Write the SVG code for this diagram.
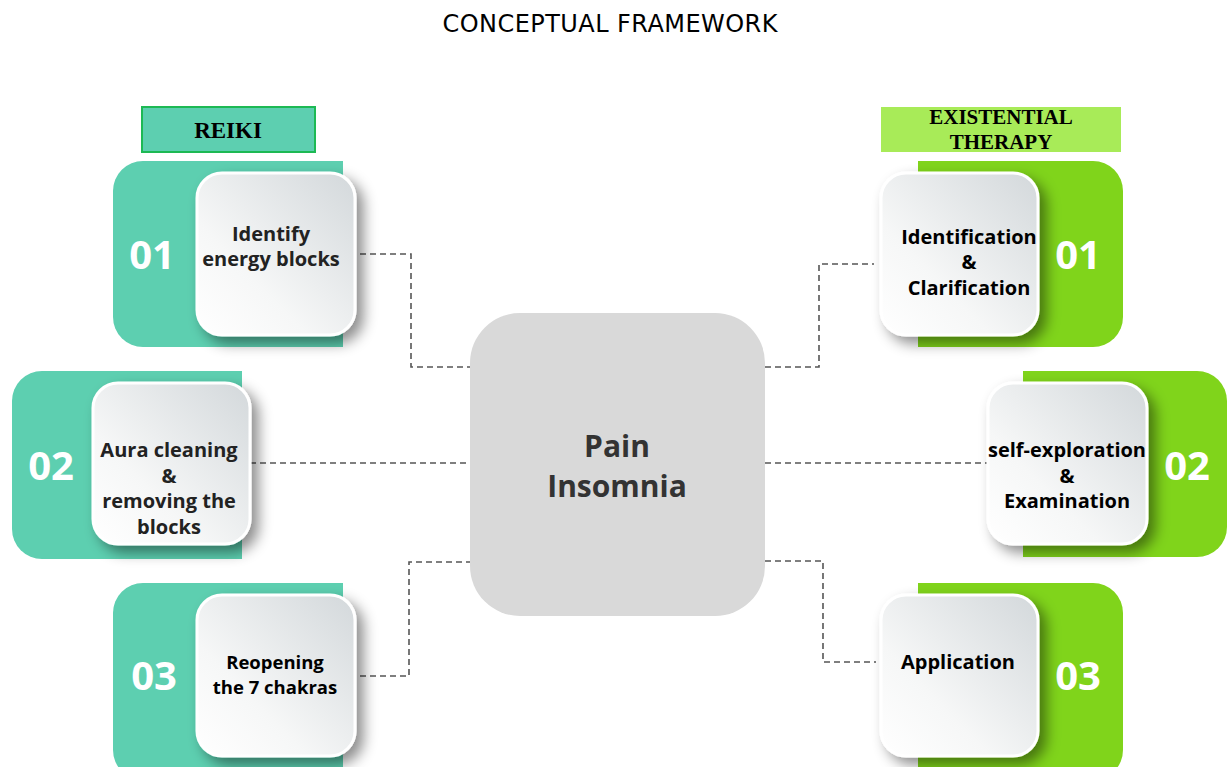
<svg xmlns="http://www.w3.org/2000/svg" width="1227" height="767" viewBox="0 0 1227 767">
<defs>
<linearGradient id="cardg" x1="0" y1="1" x2="1" y2="0">
<stop offset="0" stop-color="#ffffff"/>
<stop offset="0.35" stop-color="#f6f7f7"/>
<stop offset="1" stop-color="#d3d8db"/>
</linearGradient>
<filter id="sh" x="-30%" y="-30%" width="160%" height="160%">
<feDropShadow dx="7" dy="7" stdDeviation="7" flood-color="#000" flood-opacity="0.45"/>
</filter>
<style>
.teal{fill:#5dcfb0}
.lime{fill:#80d41b}
.card{fill:url(#cardg);stroke:#ffffff;stroke-width:3;filter:url(#sh)}
.num{font-family:"Open Sans","Noto Sans",sans-serif;font-weight:700;font-size:40px;fill:#ffffff;text-anchor:middle}
.lbl{font-family:"Open Sans","Noto Sans",sans-serif;font-weight:700;font-size:20px;fill:#222222;text-anchor:middle}
.lblk{font-family:"Open Sans","Noto Sans",sans-serif;font-weight:700;font-size:20px;fill:#000000;text-anchor:middle}
.hdr{font-family:"Liberation Serif",serif;font-weight:700;font-size:23px;fill:#000000;text-anchor:middle}
.conn{fill:none;stroke:#555555;stroke-width:1.6;stroke-dasharray:6 4}
</style>
</defs>
<rect width="1227" height="767" fill="#ffffff"/>
<text x="610" y="32" font-family="DejaVu Sans,sans-serif" font-size="24" fill="#000" text-anchor="middle" textLength="335">CONCEPTUAL FRAMEWORK</text>

<g id="connectors">
<path class="conn" d="M360 254 H411 V367 H470"/>
<path class="conn" d="M250 463 H470"/>
<path class="conn" d="M360 676 H409 V562 H470"/>
<path class="conn" d="M765 367 H819 V264 H874"/>
<path class="conn" d="M765 463 H988"/>
<path class="conn" d="M765 561 H823 V662 H876"/>
</g>

<g id="reiki-header">
<rect x="142" y="107" width="173" height="45" fill="#5dcfb0" stroke="#1db954" stroke-width="2"/>
<text class="hdr" x="228" y="138">REIKI</text>
</g>
<g id="existential-header">
<rect x="881" y="107" width="240" height="45" fill="#a8eb58"/>
<text class="hdr" x="1001" y="124" style="font-size:21px">EXISTENTIAL</text>
<text class="hdr" x="1001" y="149" style="font-size:21px">THERAPY</text>
</g>

<g id="center">
<rect x="470" y="313" width="295" height="303" rx="50" fill="#d9d9d9"/>
<text x="617" y="457" font-family="Open Sans,Noto Sans,sans-serif" font-weight="700" font-size="30" fill="#333" text-anchor="middle">Pain</text>
<text x="617" y="497" font-family="Open Sans,Noto Sans,sans-serif" font-weight="700" font-size="30" fill="#333" text-anchor="middle">Insomnia</text>
</g>

<g id="reiki-01">
<path class="teal" d="M143 161 H343 V347 H143 A30 30 0 0 1 113 317 V191 A30 30 0 0 1 143 161 Z"/>
<text class="num" x="152" y="269">01</text>
<rect class="card" x="197" y="173" width="158" height="162" rx="25"/>
<text class="lbl" x="271" y="241">Identify</text>
<text class="lbl" x="271" y="266">energy blocks</text>
</g>

<g id="reiki-02">
<path class="teal" d="M42 371 H242 V559 H42 A30 30 0 0 1 12 529 V401 A30 30 0 0 1 42 371 Z"/>
<text class="num" x="51" y="480">02</text>
<rect class="card" x="93" y="383" width="157" height="161" rx="25"/>
<text class="lbl" x="169" y="457">Aura cleaning</text>
<text class="lbl" x="169" y="483">&amp;</text>
<text class="lbl" x="169" y="508">removing the</text>
<text class="lbl" x="169" y="534">blocks</text>
</g>

<g id="reiki-03">
<path class="teal" d="M143 583 H343 V780 H143 A30 30 0 0 1 113 750 V613 A30 30 0 0 1 143 583 Z"/>
<text class="num" x="154" y="690">03</text>
<rect class="card" x="197" y="595" width="158" height="161" rx="25"/>
<text class="lblk" x="275" y="669" style="font-size:18.5px">Reopening</text>
<text class="lblk" x="275" y="694" style="font-size:18.5px">the 7 chakras</text>
</g>

<g id="exist-01">
<path class="lime" d="M918 161 H1093 A30 30 0 0 1 1123 191 V317 A30 30 0 0 1 1093 347 H918 Z"/>
<text class="num" x="1078" y="269">01</text>
<rect class="card" x="881" y="173" width="157" height="162" rx="25"/>
<text class="lblk" x="969" y="244">Identification</text>
<text class="lblk" x="969" y="269">&amp;</text>
<text class="lblk" x="969" y="295">Clarification</text>
</g>

<g id="exist-02">
<path class="lime" d="M1023 371 H1197 A30 30 0 0 1 1227 401 V527 A30 30 0 0 1 1197 557 H1023 Z"/>
<text class="num" x="1187" y="480">02</text>
<rect class="card" x="988" y="383" width="159" height="161" rx="25"/>
<text class="lblk" x="1067" y="457">self-exploration</text>
<text class="lblk" x="1067" y="483">&amp;</text>
<text class="lblk" x="1067" y="508">Examination</text>
</g>

<g id="exist-03">
<path class="lime" d="M918 583 H1093 A30 30 0 0 1 1123 613 V750 A30 30 0 0 1 1093 780 H918 Z"/>
<text class="num" x="1078" y="690">03</text>
<rect class="card" x="881" y="595" width="157" height="161" rx="25"/>
<text class="lblk" x="958" y="669">Application</text>
</g>
</svg>
